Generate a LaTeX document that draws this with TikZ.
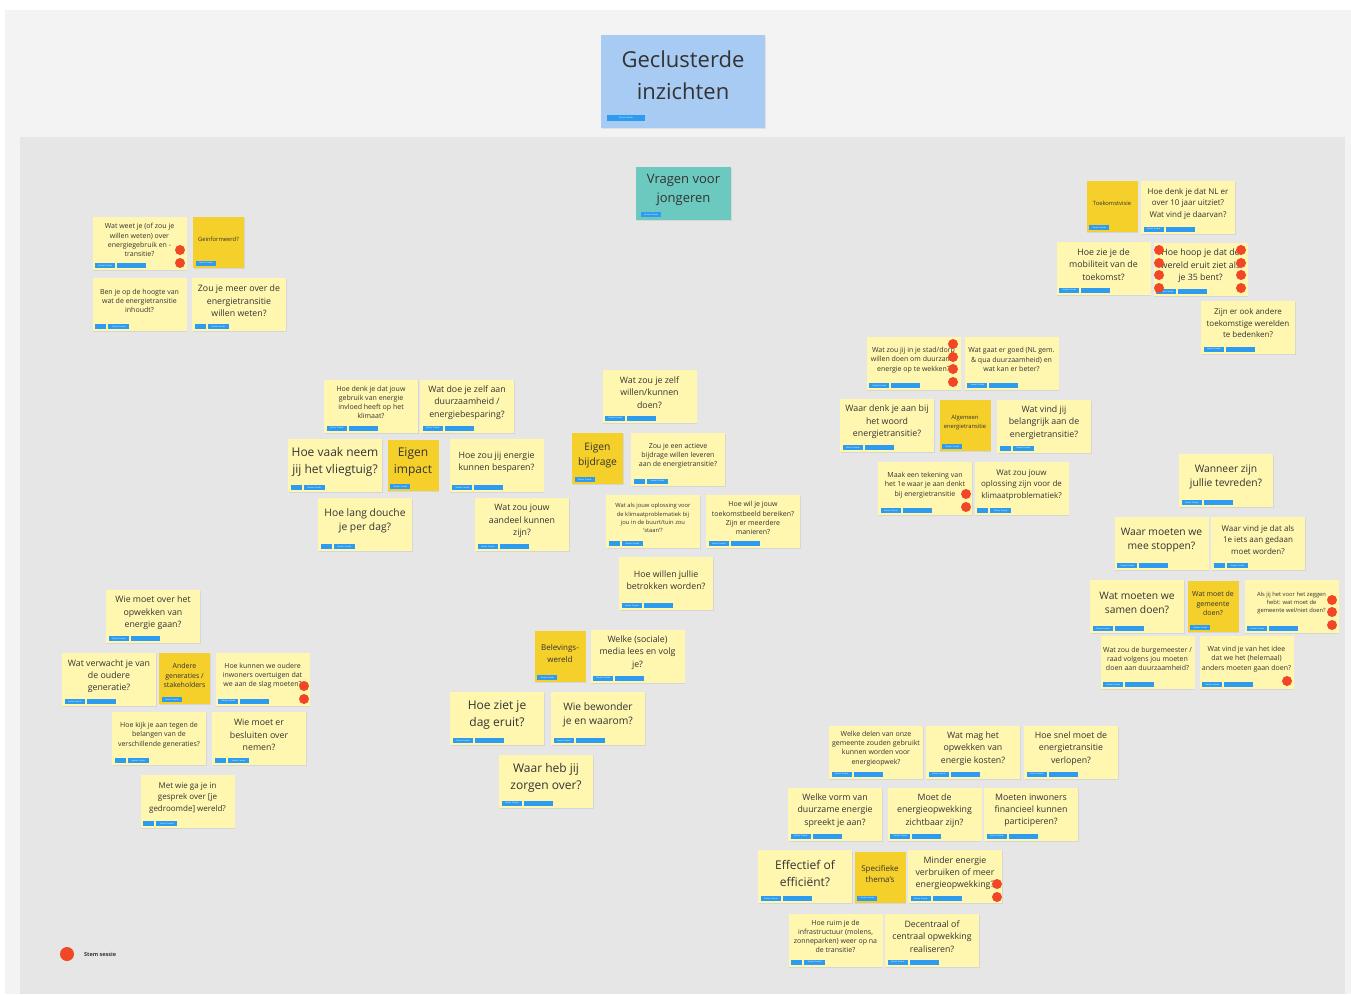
\documentclass[tikz,border=0pt]{standalone}
\usepackage{fontspec}
\setmainfont{Open Sans}
\usetikzlibrary{shadows}

\definecolor{paper}{HTML}{F3F3F3}
\definecolor{frame}{HTML}{E6E6E6}
\definecolor{lightyellow}{HTML}{FFF7B0}
\definecolor{darkyellow}{HTML}{F5CF2A}
\definecolor{titleblue}{HTML}{A8CBF4}
\definecolor{teal}{HTML}{6CC9C0}
\definecolor{tagblue}{HTML}{2D9BF0}
\definecolor{votered}{HTML}{F24726}
\definecolor{ink}{HTML}{333333}

\tikzset{
  shade/.style={drop shadow={shadow xshift=0.8pt,shadow yshift=-1.2pt,opacity=0.15}},
  light/.style={shade,fill=lightyellow,minimum width=94pt,minimum height=53pt,inner sep=0pt},
  dark/.style={shade,fill=darkyellow,minimum width=51pt,minimum height=51pt,inner sep=0pt},
  tagbox/.style={fill=tagblue,inner sep=0pt,minimum height=5pt,text=white,font=\fontsize{2}{2}\selectfont},
  vote/.style={fill=votered},
  t5/.style={text=ink,align=center,inner sep=0pt,font=\fontsize{5.8}{8.2}\selectfont},
  t6/.style={text=ink,align=center,inner sep=0pt,font=\fontsize{7}{9.2}\selectfont},
  t7/.style={text=ink,align=center,inner sep=0pt,font=\fontsize{8}{11.5}\selectfont},
  t8/.style={text=ink,align=center,inner sep=0pt,font=\fontsize{8.8}{12.3}\selectfont},
  t10/.style={text=ink,align=center,inner sep=0pt,font=\fontsize{10.3}{14.5}\selectfont},
  t12/.style={text=ink,align=center,inner sep=0pt,font=\fontsize{12}{17}\selectfont}
}

% light sticky: name, centre, text style, text
\newcommand{\sticky}[4]{%
  \node[light] (#1) at (#2) {};
  \node[#3] (#1-t) at ([yshift=3.5pt]#1.center) {#4};}
% dark sticky (cluster title)
\newcommand{\darksticky}[4]{%
  \node[dark] (#1) at (#2) {};
  \node[#3] (#1-t) at ([yshift=3pt]#1.center) {#4};
  \node[tagbox,minimum width=20pt] (#1-a) at ([xshift=13pt,yshift=4.5pt]#1.south west) {Necker Parade};}
% two tags, long first
\newcommand{\tagsA}[1]{%
  \node[tagbox,minimum width=20pt] (#1-a) at ([xshift=13pt,yshift=4.5pt]#1.south west) {Necker Parade};
  \node[tagbox,minimum width=29pt] (#1-b) at ([xshift=39.5pt,yshift=4.5pt]#1.south west) {};}
% two tags, short first
\newcommand{\tagsB}[1]{%
  \node[tagbox,minimum width=11pt] (#1-a) at ([xshift=8.5pt,yshift=4.5pt]#1.south west) {};
  \node[tagbox,minimum width=21pt] (#1-b) at ([xshift=26.5pt,yshift=4.5pt]#1.south west) {Necker Parade};}

\begin{document}
\begin{tikzpicture}[x=1pt,y=-1pt]
\useasboundingbox (0,0) rectangle (1351,994);
\fill[white] (0,0) rectangle (1351,994);
\fill[paper] (5,10) rectangle (1351,994);
\fill[frame] (20,137) rectangle (1345,994);

% title
\node[shade,fill=titleblue,minimum width=164pt,minimum height=93pt,inner sep=0pt] (title) at (683,81.5) {};
\node[text=ink,align=center,font=\fontsize{22}{32}\selectfont] (title-t) at (683,75) {Geclusterde\\inzichten};
\node[tagbox,minimum width=38pt,minimum height=6pt] (title-a) at (626,117.5) {Necker Parade};

\node[shade,fill=teal,minimum width=95pt,minimum height=53pt,inner sep=0pt] (youth) at (683.5,193.5) {};
\node[text=ink,align=center,font=\fontsize{13}{19}\selectfont] (youth-t) at (683.5,190) {Vragen voor\\jongeren};
\node[tagbox,minimum width=20pt] (youth-a) at (651,214.5) {Necker Parade};

% geinformeerd
\sticky{know}{139.5,243.5}{t6}{Wat weet je (of zou je\\willen weten) over\\energiegebruik en -\\transitie?} \tagsA{know}
\darksticky{informed}{218.5,242}{t5}{Geinformeerd?}
\sticky{uptodate}{139.5,304.5}{t6}{Ben je op de hoogte van\\wat de energietransitie\\inhoudt?} \tagsB{uptodate}
\sticky{more}{239,304.5}{t8}{Zou je meer over de\\energietransitie\\willen weten?} \tagsB{more}

% eigen impact
\sticky{climate}{371,406}{t6}{Hoe denk je dat jouw\\gebruik van energie\\invloed heeft op het\\klimaat?} \tagsA{climate}
\sticky{yourself}{467,406}{t8}{Wat doe je zelf aan\\duurzaamheid /\\energiebesparing?} \tagsA{yourself}
\sticky{plane}{335,465.5}{t12}{Hoe vaak neem\\jij het vliegtuig?} \tagsB{plane}
\darksticky{impact}{413,465.5}{t12}{Eigen\\impact}
\sticky{save}{496.5,465.5}{t8}{Hoe zou jij energie\\kunnen besparen?} \tagsA{save}
\sticky{shower}{365,524.5}{t10}{Hoe lang douche\\je per dag?} \tagsB{shower}
\sticky{share}{522,524.5}{t8}{Wat zou jouw\\aandeel kunnen\\zijn?} \tagsA{share}

% eigen bijdrage
\sticky{selfdo}{649.5,396}{t8}{Wat zou je zelf\\willen/kunnen\\doen?} \tagsA{selfdo}
\darksticky{contrib}{597.5,458.5}{t10}{Eigen\\bijdrage}
\sticky{active}{678,459}{t6}{Zou je een actieve\\bijdrage willen leveren\\aan de energietransitie?} \tagsB{active}
\sticky{garden}{653,521.5}{t5}{Wat als jouw oplossing voor\\de klimaatproblematiek bij\\jou in de buurt/tuin zou\\`staan'?} \tagsB{garden}
\sticky{future}{753,521.5}{t6}{Hoe wil je jouw\\toekomstbeeld bereiken?\\Zijn er meerdere\\manieren?} \tagsA{future}
\sticky{involved}{666,583.5}{t8}{Hoe willen jullie\\betrokken worden?} \tagsA{involved}

% toekomstvisie
\darksticky{vision}{1112,206.5}{t5}{Toekomstvisie}
\sticky{tenyears}{1188,207}{t7}{Hoe denk je dat NL er\\over 10 jaar uitziet?\\Wat vind je daarvan?} \tagsA{tenyears}
\sticky{mobility}{1103.5,268}{t8}{Hoe zie je de\\mobiliteit van de\\toekomst?} \tagsA{mobility}
\sticky{hope}{1200.5,269.5}{t8}{Hoe hoop je dat de\\wereld eruit ziet als\\je 35 bent?} \tagsA{hope}
\sticky{worlds}{1248,327}{t7}{Zijn er ook andere\\toekomstige werelden\\te bedenken?} \tagsA{worlds}

% algemeen energietransitie
\sticky{town}{913.5,363.5}{t6}{Wat zou jij in je stad/dorp\\willen doen om duurzame\\energie op te wekken?} \tagsA{town}
\sticky{good}{1011.5,363}{t6}{Wat gaat er goed (NL gem.\\\& qua duurzaamheid) en\\wat kan er beter?} \tagsA{good}
\sticky{word}{887,425.5}{t8}{Waar denk je aan bij\\het woord\\energietransitie?} \tagsA{word}
\darksticky{general}{965,425.5}{t5}{Algemeen\\energietransitie}
\sticky{important}{1044,426}{t8}{Wat vind jij\\belangrijk aan de\\energietransitie?} \tagsB{important}
\sticky{drawing}{925,488.5}{t6}{Maak een tekening van\\het 1e waar je aan denkt\\bij energietransitie} \tagsA{drawing}
\sticky{solution}{1021.5,488.5}{t7}{Wat zou jouw\\oplossing zijn voor de\\klimaatproblematiek?} \tagsB{solution}

% gemeente
\sticky{happy}{1226,480.5}{t10}{Wanneer zijn\\jullie tevreden?} \tagsA{happy}
\sticky{stop}{1161.5,543.5}{t10}{Waar moeten we\\mee stoppen?} \tagsA{stop}
\sticky{first}{1258,543.5}{t7}{Waar vind je dat als\\1e iets aan gedaan\\moet worden?} \tagsB{first}
\sticky{together}{1137,606.5}{t10}{Wat moeten we\\samen doen?} \tagsA{together}
\darksticky{council}{1213,606.5}{t6}{Wat moet de\\gemeente\\doen?}
\sticky{say}{1291.5,606.5}{t5}{Als jij het voor het zeggen\\hebt: wat moet de\\gemeente wel/niet doen?} \tagsA{say}
\sticky{mayor}{1147.5,662.5}{t6}{Wat zou de burgemeester /\\raad volgens jou moeten\\doen aan duurzaamheid?} \tagsA{mayor}
\sticky{different}{1246.5,662.5}{t6}{Wat vind je van het idee\\dat we het (helemaal)\\anders moeten gaan doen?} \tagsA{different}

% andere generaties
\sticky{who}{153,616.5}{t8}{Wie moet over het\\opwekken van\\energie gaan?} \tagsA{who}
\sticky{older}{109,679.5}{t8}{Wat verwacht je van\\de oudere\\generatie?} \tagsA{older}
\darksticky{generations}{184.5,678.5}{t6}{Andere\\generaties /\\stakeholders}
\sticky{convince}{262.5,679}{t6}{Hoe kunnen we oudere\\inwoners overtuigen dat\\we aan de slag moeten?} \tagsA{convince}
\sticky{interests}{159,738.5}{t6}{Hoe kijk je aan tegen de\\belangen van de\\verschillende generaties?} \tagsB{interests}
\sticky{decide}{259,738.5}{t8}{Wie moet er\\besluiten over\\nemen?} \tagsB{decide}
\sticky{talk}{187.5,801.5}{t7}{Met wie ga je in\\gesprek over [je\\gedroomde] wereld?} \tagsB{talk}

% belevingswereld
\darksticky{experience}{560,656.5}{t7}{Belevings-\\wereld}
\sticky{media}{637.5,656}{t8}{Welke (sociale)\\media lees en volg\\je?} \tagsA{media}
\sticky{day}{497,718.5}{t12}{Hoe ziet je\\dag eruit?} \tagsA{day}
\sticky{admire}{598,718.5}{t10}{Wie bewonder\\je en waarom?} \tagsA{admire}
\sticky{worry}{546,781}{t12}{Waar heb jij\\zorgen over?} \tagsA{worry}

% specifieke thema's
\sticky{parts}{876,752}{t6}{Welke delen van onze\\gemeente zouden gebruikt\\kunnen worden voor\\energieopwek?} \tagsA{parts}
\sticky{cost}{973,752}{t8}{Wat mag het\\opwekken van\\energie kosten?} \tagsA{cost}
\sticky{speed}{1071,752}{t8}{Hoe snel moet de\\energietransitie\\verlopen?} \tagsA{speed}
\sticky{form}{835,814}{t8}{Welke vorm van\\duurzame energie\\spreekt je aan?} \tagsA{form}
\sticky{visible}{934.5,814}{t8}{Moet de\\energieopwekking\\zichtbaar zijn?} \tagsA{visible}
\sticky{finance}{1031,814}{t8}{Moeten inwoners\\financieel kunnen\\participeren?} \tagsA{finance}
\sticky{effective}{805,876.5}{t12}{Effectief of\\efficiënt?} \tagsA{effective}
\darksticky{themes}{880,877}{t7}{Specifieke\\thema's}
\sticky{less}{955,876.5}{t8}{Minder energie\\verbruiken of meer\\energieopwekking?} \tagsA{less}
\sticky{cleanup}{835.5,940}{t6}{Hoe ruim je de\\infrastructuur (molens,\\zonneparken) weer op na\\de transitie?} \tagsB{cleanup}
\sticky{central}{932,940}{t8}{Decentraal of\\centraal opwekking\\realiseren?} \tagsA{central}

% votes
\fill[vote] (180,250) circle (5pt) (180,263) circle (5pt);
\foreach \y in {250,263,275,288} {
  \fill[vote] (1159,\y) circle (5pt) (1241,\y) circle (5pt);
}
\foreach \y in {344,357,369,382} \fill[vote] (953,\y) circle (5pt);
\fill[vote] (966,494) circle (5pt) (966,507) circle (5pt);
\foreach \y in {600,612,625} \fill[vote] (1332,\y) circle (5pt);
\fill[vote] (1287,681) circle (5pt);
\fill[vote] (304,686) circle (5pt) (304,699) circle (5pt);
\fill[vote] (997,884) circle (5pt) (997,897) circle (5pt);

% legend
\fill[vote] (67,954) circle (7pt);
\node[anchor=west,text=ink,inner sep=0pt,font=\fontsize{5.5}{7}\selectfont\bfseries] (legend) at (84,954) {Stem sessie};
\end{tikzpicture}
\end{document}
